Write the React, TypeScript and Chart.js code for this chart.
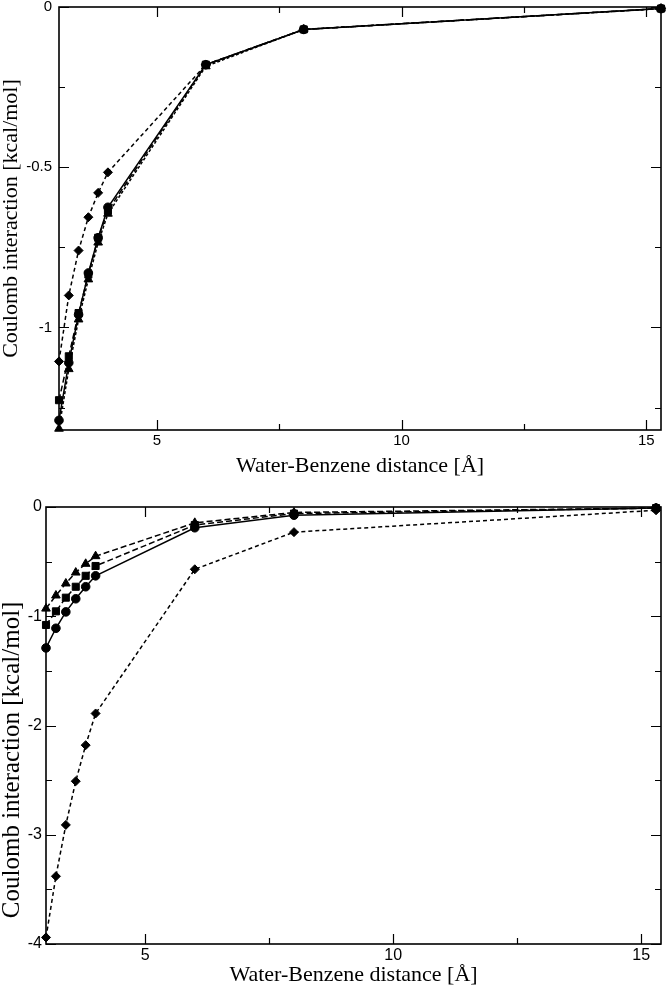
import React, { useEffect, useRef } from 'react';
import { Chart, registerables } from 'chart.js';

Chart.register(...registerables);

// ---------- data ----------
const distances = [3.0, 3.2, 3.4, 3.6, 3.8, 4.0, 6.0, 8.0, 15.3];

// top panel
const topCircle = [-1.29, -1.11, -0.96, -0.83, -0.72, -0.625, -0.18, -0.07, -0.005];
const topSquare = [-1.227, -1.09, -0.955, -0.835, -0.72, -0.635, -0.18, -0.07, -0.005];
const topTriangle = [-1.316, -1.13, -0.975, -0.85, -0.735, -0.645, -0.185, -0.07, -0.005];
const topDiamond = [-1.106, -0.9, -0.76, -0.656, -0.58, -0.516, -0.18, -0.07, -0.005];

// bottom panel
const botCircle = [-1.29, -1.11, -0.96, -0.84, -0.73, -0.63, -0.19, -0.075, -0.01];
const botSquare = [-1.08, -0.955, -0.83, -0.73, -0.63, -0.54, -0.165, -0.06, -0.01];
const botTriangle = [-0.93, -0.81, -0.7, -0.6, -0.52, -0.45, -0.145, -0.05, -0.01];
const botDiamond = [-3.94, -3.38, -2.91, -2.51, -2.18, -1.89, -0.57, -0.23, -0.03];

// ticks
const xMajorTicks = [5, 10, 15];
const xMinorTicks = [7.5, 12.5];
const topYMajorTicks = [0, -0.5, -1];
const topYMinorTicks = [-0.25, -0.75, -1.25];
const botYMajorTicks = [0, -1, -2, -3, -4];
const botYMinorTicks = [-0.5, -1.5, -2.5, -3.5];

const xTitle = 'Water-Benzene distance [\u00C5]';
const yTitle = 'Coulomb interaction [kcal/mol]';

const mk = (values: number[]) => distances.map((x, i) => ({ x, y: values[i] }));

const ds = (values: number[], style: string, radius: number, dash: number[]) => ({
  data: mk(values),
  borderColor: '#000',
  backgroundColor: '#000',
  pointBackgroundColor: '#000',
  pointBorderColor: '#000',
  borderWidth: 1.5,
  borderDash: dash,
  pointStyle: style,
  pointRadius: radius,
  pointBorderWidth: 1,
  fill: false,
  tension: 0,
  clip: false as any,
});

const framePlugin = {
  id: 'frame',
  afterDatasetsDraw(chart: any, _args: any, opts: any) {
    const { ctx, chartArea } = chart;
    const { left, right, top, bottom } = chartArea;
    const xs = chart.scales.x;
    const ys = chart.scales.y;
    ctx.save();
    ctx.strokeStyle = '#000';
    ctx.setLineDash([]);
    ctx.lineWidth = 1.6;
    ctx.strokeRect(left, top, right - left, bottom - top);
    ctx.lineWidth = 1.2;
    const drawX = (vals: number[], len: number) => {
      vals.forEach((v) => {
        const px = Math.round(xs.getPixelForValue(v)) + 0.5;
        ctx.beginPath();
        ctx.moveTo(px, bottom);
        ctx.lineTo(px, bottom - len);
        ctx.moveTo(px, top);
        ctx.lineTo(px, top + len);
        ctx.stroke();
      });
    };
    const drawY = (vals: number[], len: number) => {
      vals.forEach((v) => {
        const py = Math.round(ys.getPixelForValue(v)) + 0.5;
        ctx.beginPath();
        ctx.moveTo(left, py);
        ctx.lineTo(left + len, py);
        ctx.moveTo(right, py);
        ctx.lineTo(right - len, py);
        ctx.stroke();
      });
    };
    drawX(opts.xMajor, 10);
    drawX(opts.xMinor, 6);
    drawY(opts.yMajor, 10);
    drawY(opts.yMinor, 6);
    ctx.restore();
  },
};

interface PanelProps {
  height: number;
  datasets: any[];
  yMin: number;
  xMax: number;
  yMajor: number[];
  yMinor: number[];
  yWidth: number;
  xHeight: number;
  padTop: number;
  tickFont: number;
  yLabelPad: number;
  xLabelPad: number;
  yTitleText: string;
  yTitleFont: number;
  xTitlePadBottom: number;
}

function Panel(p: PanelProps) {
  const ref = useRef<HTMLCanvasElement>(null);
  useEffect(() => {
    if (!ref.current) return;
    const chart = new Chart(ref.current, {
      type: 'line',
      data: { datasets: p.datasets },
      plugins: [framePlugin],
      options: {
        animation: false,
        responsive: false,
        devicePixelRatio: 1,
        layout: { padding: { top: p.padTop, right: 4, left: 0, bottom: 0 } },
        plugins: {
          legend: { display: false },
          tooltip: { enabled: false },
          frame: { xMajor: xMajorTicks, xMinor: xMinorTicks, yMajor: p.yMajor, yMinor: p.yMinor },
        } as any,
        scales: {
          x: {
            type: 'linear',
            min: 3,
            max: p.xMax,
            grid: { display: false, drawTicks: false },
            border: { display: false },
            afterBuildTicks: (scale: any) => {
              scale.ticks = xMajorTicks.map((v) => ({ value: v }));
            },
            afterFit: (scale: any) => {
              scale.height = p.xHeight;
              scale.paddingLeft = 0;
              scale.paddingRight = 0;
            },
            ticks: {
              color: '#000',
              padding: p.xLabelPad,
              maxRotation: 0,
              autoSkip: false,
              font: { family: 'Liberation Sans, Arial, sans-serif', size: p.tickFont, lineHeight: 1 },
              callback: (v: any) => String(v),
            },
            title: {
              display: true,
              text: xTitle,
              color: '#000',
              font: { family: 'Liberation Serif, Times New Roman, serif', size: 22, lineHeight: 1.2 },
              padding: { top: 0, bottom: p.xTitlePadBottom },
            },
          },
          y: {
            type: 'linear',
            min: p.yMin,
            max: 0,
            grid: { display: false, drawTicks: false },
            border: { display: false },
            afterBuildTicks: (scale: any) => {
              scale.ticks = p.yMajor.map((v) => ({ value: v }));
            },
            afterFit: (scale: any) => {
              scale.width = p.yWidth;
              scale.paddingTop = 0;
              scale.paddingBottom = 0;
            },
            ticks: {
              color: '#000',
              padding: p.yLabelPad,
              autoSkip: false,
              font: { family: 'Liberation Sans, Arial, sans-serif', size: p.tickFont, lineHeight: 1 },
              callback: (v: any) => String(v),
            },
            title: {
              display: true,
              text: p.yTitleText,
              color: '#000',
              font: { family: 'Liberation Serif, Times New Roman, serif', size: p.yTitleFont, lineHeight: 1 },
              padding: { top: 0, bottom: 0 },
            },
          },
        },
      } as any,
    });
    return () => chart.destroy();
  }, []);
  return <canvas ref={ref} width={667} height={p.height} style={{ display: 'block', width: 667, height: p.height }} />;
}

export default function App() {
  const topSets = [
    ds(topDiamond, 'rectRot', 4.5, [4, 3]),
    ds(topTriangle, 'triangle', 5, [3, 2]),
    ds(topSquare, 'rect', 5, [6, 3]),
    ds(topCircle, 'circle', 4.3, []),
  ];
  const botSets = [
    ds(botDiamond, 'rectRot', 4.5, [4, 3]),
    ds(botTriangle, 'triangle', 5, [6, 3]),
    ds(botSquare, 'rect', 5, [6, 3]),
    ds(botCircle, 'circle', 4.3, []),
  ];
  return (
    <div style={{ position: 'absolute', left: 0, top: 0, width: 667, height: 991, background: '#fff' }}>
      <Panel
        height={485}
        datasets={topSets}
        yMin={-1.32}
        xMax={15.3}
        yMajor={topYMajorTicks}
        yMinor={topYMinorTicks}
        yWidth={59}
        xHeight={55}
        padTop={7}
        tickFont={15}
        yLabelPad={7}
        xLabelPad={3}
        yTitleText={yTitle}
        yTitleFont={22}
        xTitlePadBottom={6}
      />
      <Panel
        height={506}
        datasets={botSets}
        yMin={-4}
        xMax={15.4}
        yMajor={botYMajorTicks}
        yMinor={botYMinorTicks}
        yWidth={46}
        xHeight={47}
        padTop={22}
        tickFont={16}
        yLabelPad={4}
        xLabelPad={4}
        yTitleText={yTitle + '           '}
        yTitleFont={25}
        xTitlePadBottom={3}
      />
    </div>
  );
}
